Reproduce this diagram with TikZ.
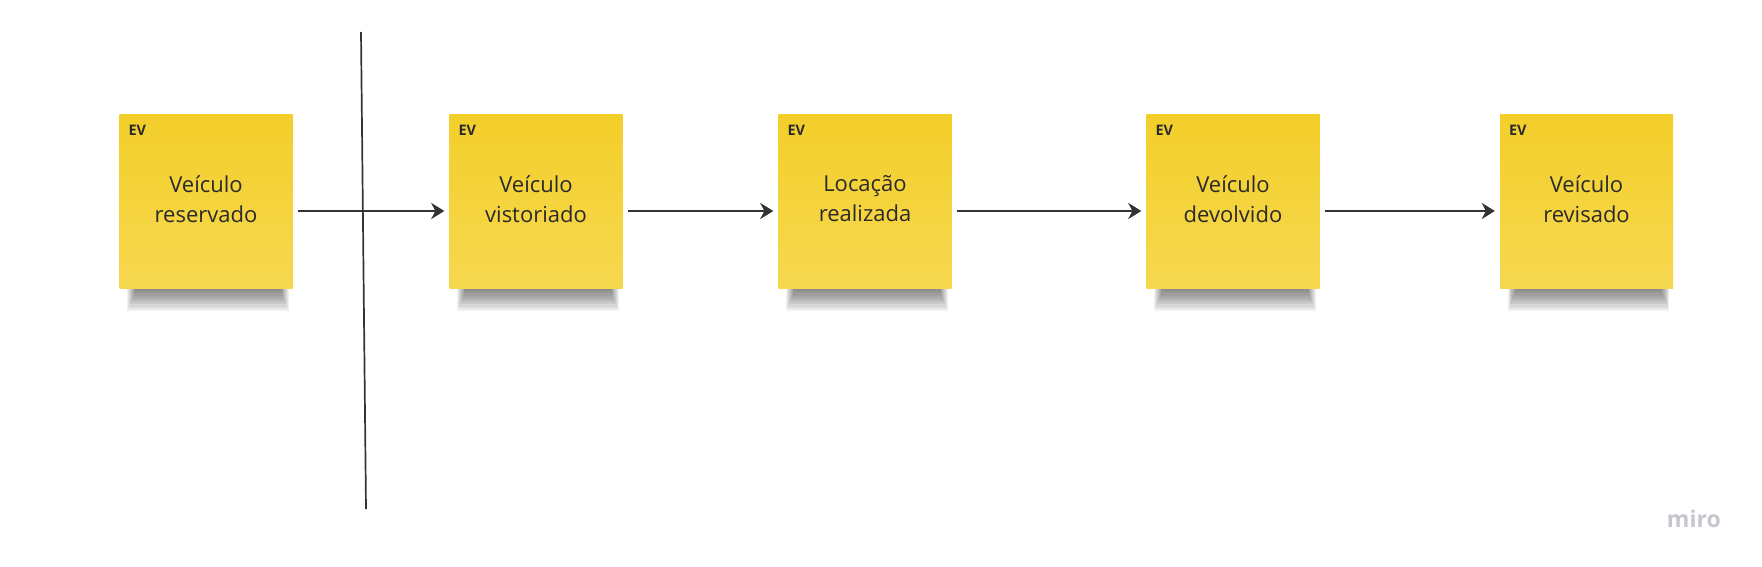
\documentclass[tikz,border=0pt]{standalone}
\usepackage{fontspec}
\setmainfont{Open Sans}
\usetikzlibrary{arrows.meta,backgrounds}
\definecolor{stickytop}{HTML}{F3CF2A}
\definecolor{stickybot}{HTML}{F6D84F}
\definecolor{inkdark}{HTML}{2A2A2A}
\definecolor{arrowgray}{HTML}{333333}
\definecolor{mirogray}{HTML}{C6C6D0}
\tikzset{
  sticky/.style={rectangle, minimum width=173pt, minimum height=173pt, inner sep=0pt,
    top color=stickytop, bottom color=stickybot, draw=none},
  evtitle/.style={text=inkdark, align=center, font=\fontsize{22}{30}\selectfont},
  evtag/.style={text=inkdark, inner sep=0pt, anchor=base west, font=\fontsize{14.5}{16}\selectfont\bfseries},
  flow/.style={draw=arrowgray, line width=2.2pt, shorten <=5pt, shorten >=5pt,
    -{Stealth[length=13pt, width=16pt, inset=4pt]}},
}
\begin{document}
\begin{tikzpicture}[x=1pt, y=-1pt]
\useasboundingbox (0,0) rectangle (1762,567);

\node[sticky] (ev1) at (206,201.5){};
\node[evtitle] (ev1txt) at (206,199){Veículo\\reservado};
\node[evtag] (ev1tag) at ([xshift=9pt,yshift=-21pt]ev1.north west){EV};

\node[sticky] (ev2) at (536,201.5){};
\node[evtitle] (ev2txt) at (536,199){Veículo\\vistoriado};
\node[evtag] (ev2tag) at ([xshift=9pt,yshift=-21pt]ev2.north west){EV};

\node[sticky] (ev3) at (865,201.5){};
\node[evtitle] (ev3txt) at (865,199){Locação\\realizada};
\node[evtag] (ev3tag) at ([xshift=9pt,yshift=-21pt]ev3.north west){EV};

\node[sticky] (ev4) at (1233,201.5){};
\node[evtitle] (ev4txt) at (1233,199){Veículo\\devolvido};
\node[evtag] (ev4tag) at ([xshift=9pt,yshift=-21pt]ev4.north west){EV};

\node[sticky] (ev5) at (1586.5,201.5){};
\node[evtitle] (ev5txt) at (1586.5,199){Veículo\\revisado};
\node[evtag] (ev5tag) at ([xshift=9pt,yshift=-21pt]ev5.north west){EV};

% white sheet, then soft shadows under the stickies
\begin{scope}[on background layer]
\fill[white] (0,0) rectangle (1762,567);
\foreach \n in {ev1,ev2,ev3,ev4,ev5}{
  \foreach \i in {0,...,9}{
    \fill[black, opacity=0.055] ([xshift={16pt-0.9pt*\i}]\n.south west) rectangle ([xshift={-12pt+0.9pt*\i},yshift={-3pt-2.2pt*\i}]\n.south east);
  }
}
\end{scope}

\draw[flow] ([yshift=-9.5pt]ev1.east) -- ([yshift=-9.5pt]ev2.west);
\draw[flow] ([yshift=-9.5pt]ev2.east) -- ([yshift=-9.5pt]ev3.west);
\draw[flow] ([yshift=-9.5pt]ev3.east) -- ([yshift=-9.5pt]ev4.west);
\draw[flow] ([yshift=-9.5pt]ev4.east) -- ([yshift=-9.5pt]ev5.west);

\coordinate (divtop) at (361,32);
\coordinate (divbot) at (366,509);
\draw[draw=arrowgray, line width=1.7pt] (divtop) -- (divbot);

\node[text=mirogray, anchor=base east, inner sep=0pt, font=\fontsize{23}{24}\selectfont\bfseries] (miro) at (1721,527){miro};

\end{tikzpicture}
\end{document}
